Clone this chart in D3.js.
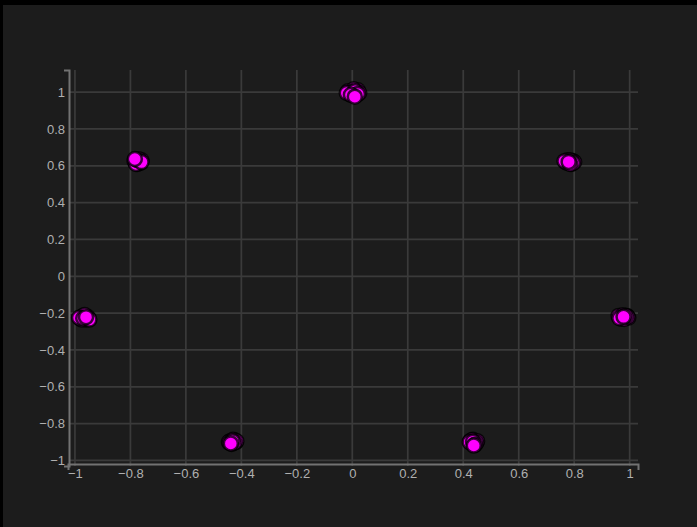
<!DOCTYPE html>
<html>
<head>
<meta charset="utf-8">
<script src="https://cdn.jsdelivr.net/npm/d3@7"></script>
<style>
  html, body { margin: 0; padding: 0; background: #000; }
  svg { display: block; }
  text { font-family: "Liberation Sans", Arial, sans-serif; }
</style>
</head>
<body>
<svg id="chart" width="697" height="527"></svg>
<script>
// Tick values for both axes
const xTicks = [-1, -0.8, -0.6, -0.4, -0.2, 0, 0.2, 0.4, 0.6, 0.8, 1];
const yTicks = [-1, -0.8, -0.6, -0.4, -0.2, 0, 0.2, 0.4, 0.6, 0.8, 1];

// Samples grouped around the seven constellation points
const clusterTop = [[-0.015, 1.005], [0.02, 1.01], [0.005, 1.015], [-0.01, 0.99], [0.025, 0.995], [0.0, 1.0], [0.015, 0.985], [-0.02, 0.995], [0.01, 1.005], [0.02, 0.99], [-0.005, 0.985], [0.009, 0.975]];
const clusterUpperLeft = [[-0.77, 0.615], [-0.765, 0.625], [-0.78, 0.62], [-0.76, 0.63], [-0.775, 0.61], [-0.785, 0.625], [-0.765, 0.615], [-0.77, 0.635], [-0.78, 0.61], [-0.775, 0.63], [-0.76, 0.62], [-0.784, 0.637]];
const clusterUpperRight = [[0.77, 0.62], [0.795, 0.625], [0.775, 0.63], [0.79, 0.61], [0.785, 0.63], [0.8, 0.62], [0.775, 0.615], [0.79, 0.625], [0.765, 0.625], [0.795, 0.615], [0.785, 0.61], [0.78, 0.621]];
const clusterLeft = [[-0.975, -0.22], [-0.98, -0.23], [-0.96, -0.235], [-0.95, -0.23], [-0.97, -0.215], [-0.955, -0.22], [-0.975, -0.235], [-0.965, -0.21], [-0.948, -0.235], [-0.985, -0.225], [-0.97, -0.228], [-0.96, -0.222]];
const clusterRight = [[0.965, -0.22], [0.99, -0.215], [0.97, -0.23], [0.985, -0.225], [0.96, -0.215], [0.995, -0.225], [0.975, -0.212], [0.98, -0.232], [0.992, -0.22], [0.963, -0.228], [0.985, -0.215], [0.978, -0.22]];
const clusterLowerLeft = [[-0.44, -0.895], [-0.425, -0.89], [-0.43, -0.905], [-0.42, -0.9], [-0.445, -0.9], [-0.43, -0.888], [-0.435, -0.91], [-0.418, -0.895], [-0.442, -0.905], [-0.425, -0.902], [-0.432, -0.895], [-0.438, -0.908]];
const clusterLowerRight = [[0.425, -0.895], [0.435, -0.888], [0.445, -0.9], [0.428, -0.905], [0.45, -0.895], [0.43, -0.89], [0.44, -0.91], [0.447, -0.905], [0.423, -0.9], [0.435, -0.898], [0.442, -0.915], [0.438, -0.919]];

const allPoints = [clusterTop, clusterUpperLeft, clusterUpperRight, clusterLeft, clusterRight, clusterLowerLeft, clusterLowerRight].flat();

const svg = d3.select("#chart");

// Panel background with a thin black frame on the top and left
svg.append("rect").attr("width", 697).attr("height", 527).attr("fill", "#000");
svg.append("rect").attr("x", 3).attr("y", 5).attr("width", 697).attr("height", 527).attr("fill", "#1c1c1c");

const plot = { left: 69, right: 638, top: 70, bottom: 466 };

const x = d3.scaleLinear().domain([-1.025, 1.03]).range([plot.left - 1, plot.right]);
const y = d3.scaleLinear().domain([-1.03, 1.12]).range([plot.bottom, plot.top]);

// Grid
const grid = svg.append("g").attr("stroke", "#3a3a3a").attr("stroke-width", 1.75);
grid.selectAll("line.v").data(xTicks).join("line")
  .attr("class", "v")
  .attr("x1", d => x(d)).attr("x2", d => x(d))
  .attr("y1", plot.top).attr("y2", plot.bottom);
grid.selectAll("line.h").data(yTicks).join("line")
  .attr("class", "h")
  .attr("x1", plot.left).attr("x2", plot.right)
  .attr("y1", d => y(d)).attr("y2", d => y(d));

const fmt = d => d3.format("")(d);

// X axis
const xAxis = svg.append("g")
  .attr("transform", `translate(0,${plot.bottom - 2})`)
  .call(d3.axisBottom(x).tickValues(xTicks).tickFormat(fmt).tickSizeInner(0).tickSizeOuter(6).tickPadding(5));

// Y axis
const yAxis = svg.append("g")
  .attr("transform", `translate(${plot.left},0)`)
  .call(d3.axisLeft(y).tickValues(yTicks).tickFormat(fmt).tickSizeInner(0).tickSizeOuter(5).tickPadding(4));

[xAxis, yAxis].forEach(a => {
  a.select(".domain").attr("stroke", "#727272").attr("stroke-width", 2);
  a.selectAll("text").attr("fill", "#b0b0b0").attr("font-size", 13);
});

// Points
svg.append("g").selectAll("circle").data(allPoints).join("circle")
  .attr("cx", d => x(d[0]))
  .attr("cy", d => y(d[1]))
  .attr("r", 7)
  .attr("fill", "#ff00ff")
  .attr("stroke", "#000")
  .attr("stroke-opacity", 0.75)
  .attr("stroke-width", 2.5);
</script>
</body>
</html>
